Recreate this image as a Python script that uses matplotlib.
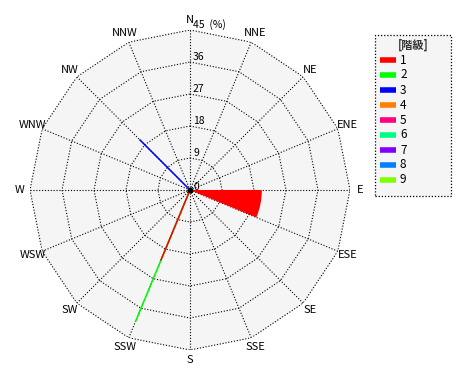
"""Wind rose (16 directions) with class legend, polygon grid."""
import matplotlib
matplotlib.use("Agg")
import matplotlib.pyplot as plt
from matplotlib.patches import Rectangle
from matplotlib.lines import Line2D
import numpy as np

plt.rcParams["font.family"] = ["Noto Sans CJK JP", "DejaVu Sans"]

directions = ["N", "NNE", "NE", "ENE", "E", "ESE", "SE", "SSE",
              "S", "SSW", "SW", "WSW", "W", "WNW", "NW", "NNW"]
ring_values = [9, 18, 27, 36, 45]
r_max = 45

class_labels = ["1", "2", "3", "4", "5", "6", "7", "8", "9"]
class_colors = ["#ff0000", "#00ff00", "#0000ff", "#ff8000", "#ff0080",
                "#00ff80", "#8000ff", "#0080ff", "#80ff00"]

# frequency (%) per direction, classes 4-9 are empty
class1 = [0, 0, 0, 0, 20.2, 0, 0, 0, 0, 21.5, 0, 0, 0, 0, 0, 0]
class2 = [0, 0, 0, 0, 0, 0, 0, 0, 0, 18.6, 0, 0, 0, 0, 0, 0]
class3 = [0, 0, 0, 0, 0, 0, 0, 0, 0, 0, 0, 0, 0, 0, 20.1, 0]
empty = [0] * 16
class_values = [class1, class2, class3] + [empty] * 6

# directions drawn as a full sector, the rest as thin rays
wide_dirs = {"E"}

theta = np.deg2rad(np.arange(16) * 22.5)
theta_closed = np.append(theta, theta[0])

W, H = 470, 380
fig = plt.figure(figsize=(W / 100, H / 100), dpi=100)
ax = fig.add_axes([30 / W, 30 / H, 320 / W, 320 / H], projection="polar")
ax.set_theta_zero_location("N")
ax.set_theta_direction(-1)
ax.set_ylim(0, r_max)
ax.axis("off")

# background polygon
ax.fill(theta_closed, [r_max] * 17, color="#f5f5f5", zorder=0)

grid_kw = dict(color="black", lw=0.8, dashes=(1, 1.6), zorder=1)
for rv in ring_values:
    ax.plot(theta_closed, [rv] * 17, **grid_kw)
for th in theta:
    ax.plot([th, th], [0, r_max], **grid_kw)

# stacked classes
cum = np.zeros(16)
stack = []
for vals in class_values:
    vals = np.asarray(vals, dtype=float)
    stack.append((cum.copy(), cum + vals))
    cum = cum + vals

for i in reversed(range(len(class_values))):
    lo, hi = stack[i]
    for j, d in enumerate(directions):
        if hi[j] <= lo[j]:
            continue
        if d in wide_dirs:
            ax.bar(theta[j], hi[j] - lo[j], bottom=lo[j], width=np.deg2rad(22.5),
                   align="edge", color=class_colors[i], linewidth=0, zorder=3)
        else:
            ax.plot([theta[j], theta[j]], [0, hi[j]], color=class_colors[i],
                    lw=1.1, solid_capstyle="butt", zorder=3 + (len(class_values) - i) * 0.01)

ax.plot(0, 0, "o", color="black", ms=3, zorder=5)

# ring labels along north spoke
ax.annotate("0", xy=(0, 0), xytext=(3, 3), textcoords="offset pixels",
            ha="left", va="center", fontsize=7.5, zorder=6)
for rv in ring_values:
    txt = f"{rv}  (%)" if rv == r_max else str(rv)
    ax.annotate(txt, xy=(0, rv), xytext=(3, 5), textcoords="offset pixels",
                ha="left", va="center", fontsize=7.5, zorder=6)

# direction labels
for th, d in zip(theta, directions):
    ax.text(th, r_max * 1.065, d, ha="center", va="center", fontsize=8, clip_on=False)

# legend box, laid out in figure pixels
box = Rectangle((375 / W, 1 - 196 / H), 76 / W, 161 / H, transform=fig.transFigure,
                facecolor="#f5f5f5", edgecolor="black", lw=0.9, linestyle=(0, (1, 1.5)))
fig.patches.append(box)
fig.text(413 / W, 1 - 45 / H, "[階級]", ha="center", va="center", fontsize=8,
         fontweight="bold", color="#333333")
for k, (lab, col) in enumerate(zip(class_labels, class_colors)):
    y = 1 - (60 + 15 * k) / H
    fig.lines.append(Line2D([380 / W, 396 / W], [y, y], transform=fig.transFigure,
                            color=col, lw=4, solid_capstyle="butt"))
    fig.text(400 / W, y, lab, ha="left", va="center", fontsize=8.5)

fig.savefig("out.png", dpi=100)
